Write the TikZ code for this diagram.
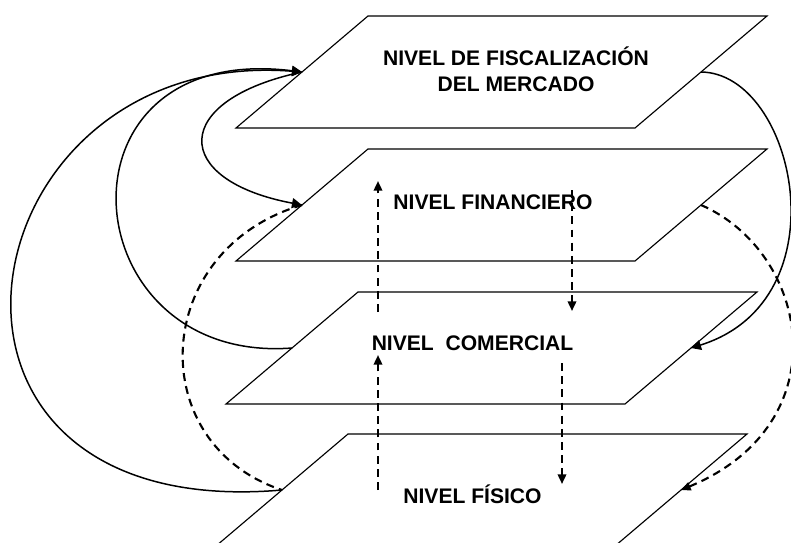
\documentclass[tikz,border=0pt]{standalone}
\usepackage{fontspec}
\setmainfont{Liberation Sans}
\usetikzlibrary{arrows.meta}

\tikzset{
  plano/.style={draw, line width=0.65pt},
  rotulo/.style={font=\bfseries\fontsize{12}{14.7}\selectfont, anchor=base, inner sep=0pt},
  enlace/.style={line width=0.85pt, -{Triangle[length=5.7pt,width=5.7pt]}},
  flujo/.style={line width=1.2pt, dash pattern=on 4.5pt off 3pt, -{Triangle[length=5.5pt,width=4.8pt]}}
}

\begin{document}
\begin{tikzpicture}[x=0.02cm, y=-0.02cm]
  \useasboundingbox (0,0) rectangle (791,542);
  \clip (0,0) rectangle (791,542);
  % planos: esquina superior izquierda de cada uno
  \foreach \nm/\px/\py in {mer/368/16, fin/368/149, com/358/292, fis/348/434} {
    \draw[plano] (\px-132,\py+112) -- (\px,\py) -- (\px+399,\py) -- (\px+267,\py+112) -- cycle;
    \coordinate (\nm-i) at (\px-66,\py+56);
    \coordinate (\nm-d) at (\px+333,\py+56);
  }
  \node[rotulo, align=center] (tmer) at (516,91) {NIVEL DE FISCALIZACIÓN\\DEL MERCADO};
  \node[rotulo] (tfin) at (493,209) {NIVEL FINANCIERO};
  \node[rotulo] (tcom) at (472.5,350) {NIVEL\ \ COMERCIAL};
  \node[rotulo] (tfis) at (472.5,503) {NIVEL FÍSICO};
  \coordinate (s1) at (378,490);
  \coordinate (e1) at (378,355);
  \coordinate (s2) at (378,312);
  \coordinate (e2) at (378,181);
  \coordinate (s3) at (572,190);
  \coordinate (e3) at (572,311);
  \coordinate (s4) at (562,363);
  \coordinate (e4) at (562,484);
  \draw[enlace] (mer-i) .. controls (170,100) and (170,180) .. (fin-i);
  \draw[enlace] (com-i) .. controls (70,365) and (45,40) .. (mer-i);
  \draw[enlace] (fis-i) .. controls (-120,525) and (-40,45) .. (mer-i);
  \draw[enlace] (mer-d) .. controls (795,73) and (845,300) .. (com-d);
  \draw[flujo, -] (fin-i) .. controls (150,250) and (143,444) .. (fis-i);
  \draw[flujo] (fin-d) .. controls (809,252) and (842,423) .. (fis-d);
  \draw[flujo] (s1) -- (e1);
  \draw[flujo] (s2) -- (e2);
  \draw[flujo] (s3) -- (e3);
  \draw[flujo] (s4) -- (e4);
\end{tikzpicture}
\end{document}
